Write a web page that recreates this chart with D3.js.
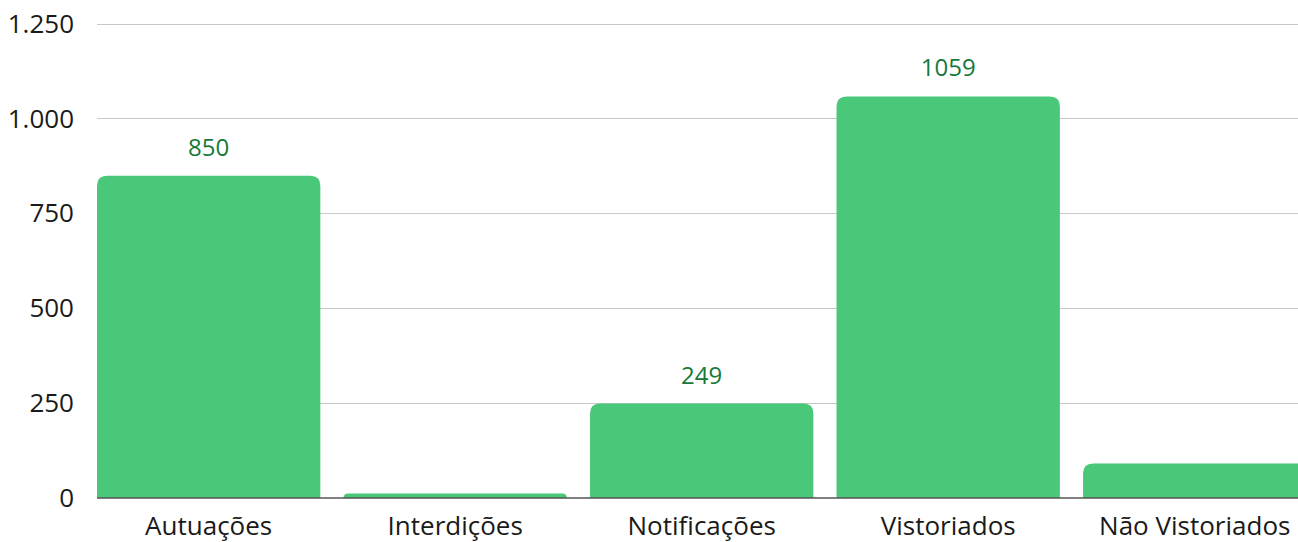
<!DOCTYPE html>
<html>
<head>
<meta charset="utf-8">
<script src="https://cdn.jsdelivr.net/npm/d3@7"></script>
<style>
  html, body { margin: 0; padding: 0; background: #fff; overflow: hidden; }
  svg { display: block; font-family: "Open Sans", sans-serif; }
</style>
</head>
<body>
<svg id="chart" width="1298" height="542"></svg>
<script>
// Data
const categories = ["Autuações", "Interdições", "Notificações", "Vistoriados", "Não Vistoriados"];
const values = [850, 12, 249, 1059, 91];
const showValue = [true, false, true, true, false];
const yTicks = [0, 250, 500, 750, 1000, 1250];

const svg = d3.select("#chart");
const plotLeft = 97, plotRight = 1306.4, plotTop = 24, plotBottom = 498;

const x = d3.scaleBand()
  .domain(categories)
  .range([plotLeft, plotRight])
  .paddingInner(0.094)
  .paddingOuter(0);

const y = d3.scaleLinear()
  .domain([0, 1250])
  .range([plotBottom, plotTop]);

const fmt = d3.formatLocale({ decimal: ",", thousands: ".", grouping: [3], currency: ["R$", ""] }).format(",d");

// Gridlines
svg.append("g")
  .selectAll("line")
  .data(yTicks.filter(d => d > 0))
  .join("line")
  .attr("x1", plotLeft).attr("x2", 1298)
  .attr("y1", d => y(d)).attr("y2", d => y(d))
  .attr("stroke", "#c8c8c8")
  .attr("stroke-width", 1)
  .attr("shape-rendering", "crispEdges");

// Y axis labels
const yAxis = d3.axisLeft(y).tickValues(yTicks).tickFormat(fmt).tickSize(0).tickPadding(23);
const yg = svg.append("g").attr("transform", `translate(${plotLeft},0)`).call(yAxis);
yg.select(".domain").remove();
yg.selectAll("text")
  .attr("font-size", 26)
  .attr("fill", "#1a1a1a")
  .attr("font-family", "'Open Sans', sans-serif");

// Bars with rounded top corners
const r = 10;
function barPath(d, i) {
  const x0 = x(categories[i]), w = x.bandwidth();
  const y0 = y(d), y1 = y(0);
  const h = y1 - y0;
  const rr = Math.min(r, h, w / 2);
  return `M${x0},${y1}V${y0 + rr}Q${x0},${y0} ${x0 + rr},${y0}H${x0 + w - rr}Q${x0 + w},${y0} ${x0 + w},${y0 + rr}V${y1}Z`;
}
svg.append("g")
  .selectAll("path")
  .data(values)
  .join("path")
  .attr("d", barPath)
  .attr("fill", "#48c878");

// Baseline
svg.append("line")
  .attr("x1", plotLeft).attr("x2", 1298)
  .attr("y1", y(0)).attr("y2", y(0))
  .attr("stroke", "#555")
  .attr("stroke-width", 1.3);

// X axis labels
const xAxis = d3.axisBottom(x).tickSize(0).tickPadding(18.5);
const xg = svg.append("g").attr("transform", `translate(0,${y(0)})`).call(xAxis);
xg.select(".domain").remove();
xg.selectAll("text")
  .attr("font-size", 26)
  .attr("fill", "#1a1a1a")
  .attr("font-family", "'Open Sans', sans-serif");

// Value labels
svg.append("g")
  .selectAll("text")
  .data(values.map((v, i) => ({ v, i })).filter(d => showValue[d.i]))
  .join("text")
  .attr("x", d => x(categories[d.i]) + x.bandwidth() / 2)
  .attr("y", d => y(d.v) - 20)
  .attr("text-anchor", "middle")
  .attr("font-size", 24)
  .attr("fill", "#16793a")
  .text(d => d.v);
</script>
</body>
</html>
